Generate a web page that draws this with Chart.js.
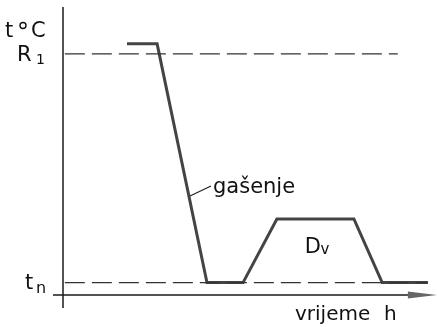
<!DOCTYPE html>
<html>
<head>
<meta charset="utf-8">
<script src="https://cdn.jsdelivr.net/npm/chart.js@4/dist/chart.umd.min.js"></script>
<style>
  html, body { margin: 0; padding: 0; background: #fff; }
</style>
</head>
<body>
<canvas id="chart" width="437" height="327"></canvas>
<script>
// temperature course over time (arbitrary units)
const curveTime = [17.2, 25.3, 38.7, 48.4, 57.5, 78.2, 85.8, 98.1];
const curveTemp = [87.2, 87.2, 4.3, 4.3, 26.4, 26.4, 4.3, 4.3];

// reference levels
const levelR1 = 83.7;
const levelTn = 4.3;
const r1Span = [0.5, 90];
const tnSpan = [0.5, 98];

const toPoints = (xs, ys) => xs.map((x, i) => ({ x: x, y: ys[i] }));

const FONT = '"DejaVu Sans", sans-serif';

function text(ctx, str, x, y, size) {
    ctx.font = size + 'px ' + FONT;
    ctx.fillText(str, x, y);
}

const sketchPlugin = {
    id: 'sketch',
    beforeDatasetsDraw(chart) {
        const ctx = chart.ctx;
        const xs = chart.scales.x;
        const ys = chart.scales.y;
        const x0 = xs.getPixelForValue(0);
        const y0 = ys.getPixelForValue(0);

        ctx.save();
        ctx.strokeStyle = '#1a1a1a';
        ctx.lineWidth = 1.5;
        // vertical axis
        ctx.beginPath();
        ctx.moveTo(x0, ys.getPixelForValue(100));
        ctx.lineTo(x0, ys.getPixelForValue(-4.5));
        ctx.stroke();
        // time axis
        ctx.beginPath();
        ctx.moveTo(xs.getPixelForValue(-2.7), y0);
        ctx.lineTo(xs.getPixelForValue(93.5), y0);
        ctx.stroke();
        // arrow head
        ctx.fillStyle = '#666';
        ctx.beginPath();
        ctx.moveTo(xs.getPixelForValue(92.7), y0 - 3.5);
        ctx.lineTo(xs.getPixelForValue(100.5), y0);
        ctx.lineTo(xs.getPixelForValue(92.7), y0 + 3.5);
        ctx.closePath();
        ctx.fill();
        ctx.restore();
    },
    afterDatasetsDraw(chart) {
        const ctx = chart.ctx;
        const xs = chart.scales.x;
        const ys = chart.scales.y;
        const yR1 = ys.getPixelForValue(levelR1);
        const yTn = ys.getPixelForValue(levelTn);
        const y0 = ys.getPixelForValue(0);

        ctx.save();
        ctx.fillStyle = '#111';
        ctx.textBaseline = 'alphabetic';

        // axis title t °C (degree drawn as a small ring)
        text(ctx, 't', 5, 37, 21);
        ctx.strokeStyle = '#111';
        ctx.lineWidth = 1.4;
        ctx.beginPath();
        ctx.arc(23, 25.5, 3, 0, Math.PI * 2);
        ctx.stroke();
        text(ctx, 'C', 31, 37, 21);

        // R1 level
        text(ctx, 'R', 17, yR1 + 7, 21);
        text(ctx, '1', 36, yR1 + 10, 14);

        // tn level
        text(ctx, 't', 25, yTn + 6, 21);
        text(ctx, 'n', 36, yTn + 10, 16);

        // Dv inside the plateau
        text(ctx, 'D', xs.getPixelForValue(65), ys.getPixelForValue(14.6), 21);
        text(ctx, 'v', xs.getPixelForValue(69.2), ys.getPixelForValue(14.2), 15);

        // quenching label with leader
        ctx.strokeStyle = '#222';
        ctx.lineWidth = 1.2;
        ctx.beginPath();
        ctx.moveTo(190, 196);
        ctx.lineTo(211, 186);
        ctx.stroke();
        text(ctx, 'gašenje', 213, 193, 21);

        // time axis title
        text(ctx, 'vrijeme', 295, y0 + 25, 20);
        text(ctx, 'h', 384, y0 + 25, 20);
        ctx.restore();
    }
};

new Chart(document.getElementById('chart').getContext('2d'), {
    type: 'scatter',
    data: {
        datasets: [{
            label: 'R1',
            data: toPoints(r1Span, [levelR1, levelR1]),
            showLine: true,
            borderColor: '#333',
            borderWidth: 1.2,
            borderDash: [20, 7],
            pointRadius: 0
        }, {
            label: 'tn',
            data: toPoints(tnSpan, [levelTn, levelTn]),
            showLine: true,
            borderColor: '#333',
            borderWidth: 1.2,
            borderDash: [20, 7],
            pointRadius: 0
        }, {
            label: 'temperatura',
            data: toPoints(curveTime, curveTemp),
            showLine: true,
            borderColor: '#444',
            borderWidth: 3,
            pointRadius: 0,
            tension: 0
        }]
    },
    options: {
        responsive: false,
        animation: false,
        devicePixelRatio: 1,
        layout: { padding: { left: 63, right: 2, top: 7, bottom: 32 } },
        scales: {
            x: { type: 'linear', min: 0, max: 100, display: false },
            y: { type: 'linear', min: 0, max: 100, display: false }
        },
        plugins: {
            legend: { display: false },
            tooltip: { enabled: false }
        }
    },
    plugins: [sketchPlugin]
});
</script>
</body>
</html>
